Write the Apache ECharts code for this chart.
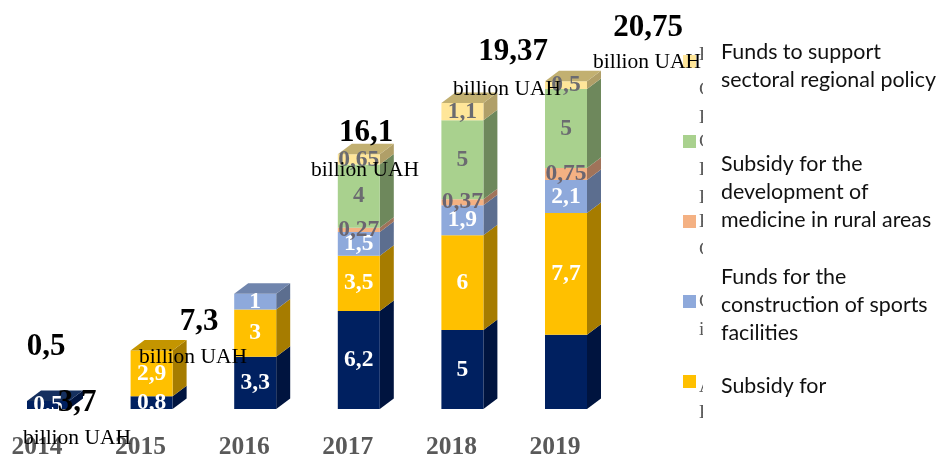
<!DOCTYPE html>
<html><head><meta charset="utf-8">
<style>html,body{margin:0;padding:0;background:#fff}#c{width:940px;height:458px}</style>
<script src="https://cdn.jsdelivr.net/npm/echarts@6/dist/echarts.min.js"></script>
</head><body><div id="c"></div>
<script>
const years = ['2014','2015','2016','2017','2018','2019'];
const seriesNames = ['Navy segment','Subsidy for','Funds for the construction of sports facilities','Subsidy for the development of medicine in rural areas','Other funds','Funds to support sectoral regional policy'];
const navy   = [0.5, 0.8, 3.3, 6.2, 5, 4.7];
const yellow = [null, 2.9, 3, 3.5, 6, 7.7];
const blue   = [null, null, 1, 1.5, 1.9, 2.1];
const salmon = [null, null, null, 0.27, 0.37, 0.75];
const green  = [null, null, null, 4, 5, 5];
const pale   = [null, null, null, 0.65, 1.1, 0.5];
const unlabelled = [[0, 5]]; // series index, year index: no printed value in the picture
const totals = ['0,5','3,7','7,3','16,1','19,37','20,75'];
const unitText = 'billion UAH';
const legendTexts = ['Funds to support\nsectoral regional policy','Subsidy for the\ndevelopment of\nmedicine in rural areas','Funds for the\nconstruction of sports\nfacilities','Subsidy for'];
const sliverGlyphs = ['К','С','К','С','К','К','К','С','С','і','А','К'];

const stackValues = [navy, yellow, blue, salmon, green, pale];
const faces = [
  {front:'#002060', side:'#00143F', top:'#15305F', text:'#fff'},
  {front:'#FFC000', side:'#A67C00', top:'#C49500', text:'#fff'},
  {front:'#8EA9DB', side:'#5C6E8F', top:'#7085AD', text:'#fff'},
  {front:'#F4B183', side:'#A0735A', top:'#BE8A66', text:'#6B6570'},
  {front:'#A9D18E', side:'#6E885C', top:'#86A570', text:'#6B6B70'},
  {front:'#FFE699', side:'#B09F68', top:'#C2B071', text:'#6B6B70'}
];
const totalPos = [[46,347],[77,403],[199,322],[366,133],[513,52],[648,28]];
const unitPos  = [null,[77,438],[193,357],[365,170],[507,89],[647,62]];
const legendTextPos = [52,164,277,386];
const sliverY = [55,90,118,142,170,198,222,250,302,330,387,413];
const W = 42, DX = 14, DY = 10.5, SHIFT = 11;

function makeSeries(si){
  const data = [];
  stackValues[si].forEach((v,i)=>{
    if(v==null) return;
    let base = 0;
    for(let k=0;k<si;k++) base += stackValues[k][i] || 0;
    let isTop = 1;
    for(let k=si+1;k<stackValues.length;k++) if(stackValues[k][i]!=null) isTop = 0;
    data.push([i,v,base,isTop]);
  });
  const f = faces[si];
  return {
    type:'custom', name:seriesNames[si], z:2+si,
    itemStyle:{color:f.front},
    clip:false,
    encode:{x:0,y:1},
    data,
    renderItem(params,api){
      const i=api.value(0), v=api.value(1), b=api.value(2), isTop=api.value(3);
      const p0=api.coord([i,b]), p1=api.coord([i,b+v]);
      const x=p0[0]+SHIFT-W/2, y0=p0[1], y1=p1[1];
      const kids=[
        {type:'polygon',shape:{points:[[x+W,y0],[x+W+DX,y0-DY],[x+W+DX,y1-DY],[x+W,y1]]},style:{fill:f.side}},
        {type:'rect',shape:{x,y:y1,width:W,height:y0-y1},style:{fill:f.front}}
      ];
      if(isTop) kids.push({type:'polygon',shape:{points:[[x,y1],[x+W,y1],[x+W+DX,y1-DY],[x+DX,y1-DY]]},style:{fill:f.top}});
      return {type:'group',children:kids};
    }
  };
}

function labelSeries(){
  const data=[];
  stackValues.forEach((vals,si)=>vals.forEach((v,i)=>{
    if(v==null || unlabelled.some(u=>u[0]===si&&u[1]===i)) return;
    let base=0;
    for(let k=0;k<si;k++) base+=stackValues[k][i]||0;
    data.push([i,base+v/2,si,v]);
  }));
  return {
    type:'custom', name:'labels', z:12, clip:false, silent:true,
    encode:{x:0,y:1}, data,
    renderItem(params,api){
      const p=api.coord([api.value(0),api.value(1)]);
      return {type:'text',style:{text:String(api.value(3)).replace('.',','),x:p[0]+SHIFT,y:p[1],align:'center',verticalAlign:'middle',
        fill:faces[api.value(2)].text,font:'bold 23.5px "Liberation Serif"'}};
    }
  };
}

const graphics=[];
sliverGlyphs.forEach((g,i)=>graphics.push({type:'text',z:20,x:699,y:sliverY[i],style:{text:g,font:'19px "Liberation Serif"',fill:'#595959',verticalAlign:'middle'}}));
graphics.push({type:'rect',z:21,shape:{x:703,y:0,width:237,height:458},style:{fill:'#fff'}});
legendTexts.forEach((t,i)=>graphics.push({type:'text',z:22,x:721,y:legendTextPos[i]-14,style:{text:t,font:'21.4px Lato',lineHeight:28.2,fill:'#111',verticalAlign:'top'}}));
totals.forEach((t,i)=>graphics.push({type:'text',z:30,x:totalPos[i][0],y:totalPos[i][1],style:{text:t,font:'bold 31px "Liberation Serif"',fill:'#000',align:'center',verticalAlign:'middle'}}));
unitPos.forEach(p=>{ if(p) graphics.push({type:'text',z:30,x:p[0],y:p[1],style:{text:unitText,font:'21.5px "Liberation Serif"',fill:'#000',align:'center',verticalAlign:'middle'}}); });

const chart=echarts.init(document.getElementById('c'),null,{renderer:'canvas'});
chart.setOption({
  animation:false,
  backgroundColor:'#fff',
  grid:{left:37,width:518,top:29.8,height:379.2,outerBoundsMode:'none'},
  xAxis:{type:'category',data:years,boundaryGap:false,
    axisLine:{show:false},axisTick:{show:false},splitLine:{show:false},
    axisLabel:{interval:0,margin:38,verticalAlign:'middle',color:'#595959',fontFamily:'Liberation Serif',fontWeight:'bold',fontSize:25.5}},
  yAxis:{type:'value',min:0,max:24,show:false},
  legend:{orient:'vertical',left:683,top:55,padding:0,itemWidth:13,itemHeight:13,itemGap:67,icon:'rect',
    selectedMode:false,z:15,
    data:[seriesNames[5],seriesNames[4],seriesNames[3],seriesNames[2],seriesNames[1]],
    formatter:()=>' ',textStyle:{fontSize:12,padding:0}},
  graphic:graphics,
  series:stackValues.map((_,i)=>makeSeries(i)).concat([labelSeries()])
});
</script></body></html>
